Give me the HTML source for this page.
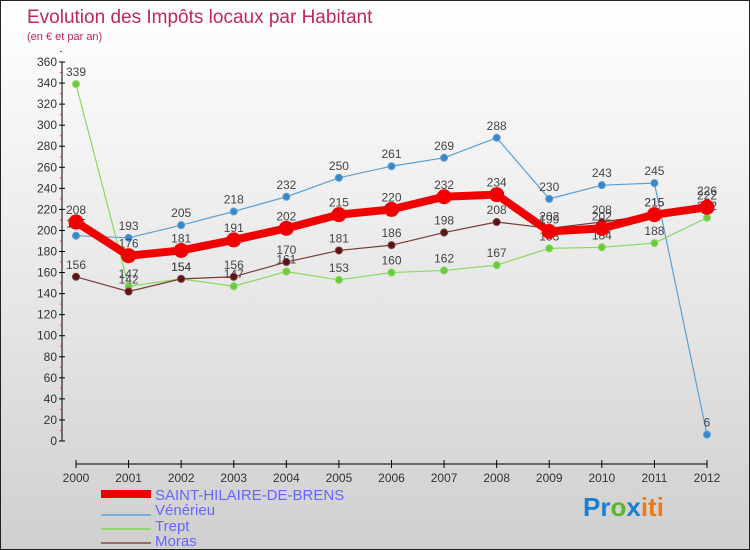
<!DOCTYPE html>
<html><head><meta charset="utf-8"><style>
body{margin:0}
#c{width:748px;height:548px;border:1px solid #222;background:linear-gradient(#fff,#e4e4e4 60%,#cfcfcf);position:relative;overflow:hidden;font-family:"Liberation Sans",sans-serif}
</style></head><body>
<div id="c">
<svg width="748" height="548" id="svg">
<text x="26" y="22" font-size="19" fill="#c0275a">Evolution des Impôts locaux par Habitant</text>
<text x="26" y="39" font-size="11" fill="#c0275a">(en € et par an)</text>
<g id="axes"></g><g id="series"></g>
<g>
<rect x="100" y="489" width="50" height="8" fill="#e00"/>
<text x="154" y="499" font-size="15" fill="#66f">SAINT-HILAIRE-DE-BRENS</text>
<line x1="100" y1="514" x2="150" y2="514" stroke="#7aaed6" stroke-width="2"/>
<text x="154" y="514" font-size="15" fill="#66f">Vénérieu</text>
<line x1="100" y1="528" x2="150" y2="528" stroke="#92d86c" stroke-width="2"/>
<text x="154" y="530" font-size="15" fill="#66f">Trept</text>
<line x1="100" y1="542" x2="150" y2="542" stroke="#9a6a6a" stroke-width="2"/>
<text x="154" y="545" font-size="15" fill="#66f">Moras</text>
</g>
<text x="582" y="515" font-size="26" font-weight="bold"><tspan fill="#1a7fd4">Pr</tspan><tspan fill="#5bb82a">o</tspan><tspan fill="#1a7fd4">x</tspan><tspan fill="#f07a10">iti</tspan></text>
</svg></div>
<script>
const years=[2000,2001,2002,2003,2004,2005,2006,2007,2008,2009,2010,2011,2012];
const yTicks=[0,20,40,60,80,100,120,140,160,180,200,220,240,260,280,300,320,340,360];
const shb=[208,176,181,191,202,215,220,232,234,199,202,215,222];
const venerieu=[195,193,205,218,232,250,261,269,288,230,243,245,6];
const trept=[339,147,154,147,161,153,160,162,167,183,184,188,212];
const moras=[156,142,154,156,170,181,186,198,208,202,208,215,226];
const NS="http://www.w3.org/2000/svg";
const X=i=>75+i*(631/12), Y=v=>440-v*(379/360);
function mk(t,a,p){const e=document.createElementNS(NS,t);for(const k in a)e.setAttribute(k,a[k]);p.appendChild(e);return e;}
const ax=document.getElementById('axes'),sg=document.getElementById('series');
mk('line',{x1:61,y1:Y(360),x2:61,y2:440,stroke:'#000'},ax);
yTicks.forEach(v=>{mk('line',{x1:58,y1:Y(v),x2:64,y2:Y(v),stroke:'#000'},ax);
 mk('line',{x1:59,y1:Y(v+10),x2:61,y2:Y(v+10),stroke:'#e33'},ax);
 const t=mk('text',{x:56,y:Y(v)+4,'font-size':12,fill:'#333','text-anchor':'end'},ax);t.textContent=v;
 
 });
mk('line',{x1:75,y1:463,x2:X(12),y2:463,stroke:'#000'},ax);
years.forEach((y,i)=>{mk('line',{x1:X(i),y1:459,x2:X(i),y2:467,stroke:'#000'},ax);
 const t=mk('text',{x:X(i),y:481,'font-size':12,fill:'#333','text-anchor':'middle'},ax);t.textContent=y;
 
 });
function series(d,col,pt,w,r,name){
 const g=mk('g',{},sg);
 
 
 mk('polyline',{points:d.map((v,i)=>X(i)+','+Y(v)).join(' '),fill:'none',stroke:col,'stroke-width':w,'stroke-linejoin':'round'},g);
 d.forEach((v,i)=>{const c=mk('circle',{cx:X(i),cy:Y(v),r:r,fill:pt,stroke:col,'stroke-width':1},g);
  
  
  const t=mk('text',{x:X(i),y:Y(v)-8,'font-size':12,fill:'#444','text-anchor':'middle'},g);t.textContent=v;
  
  });
}
series(venerieu,'#5a9fd4','#3a86c8',1.2,3.5,'venerieu');
series(trept,'#8ad860','#6cc83e',1.2,3.5,'trept');
series(moras,'#7a3a3a','#5a1414',1.2,3.5,'moras');
series(shb,'#f00000','#f00000',8,7,'saint-hilaire');
</script></body></html>
